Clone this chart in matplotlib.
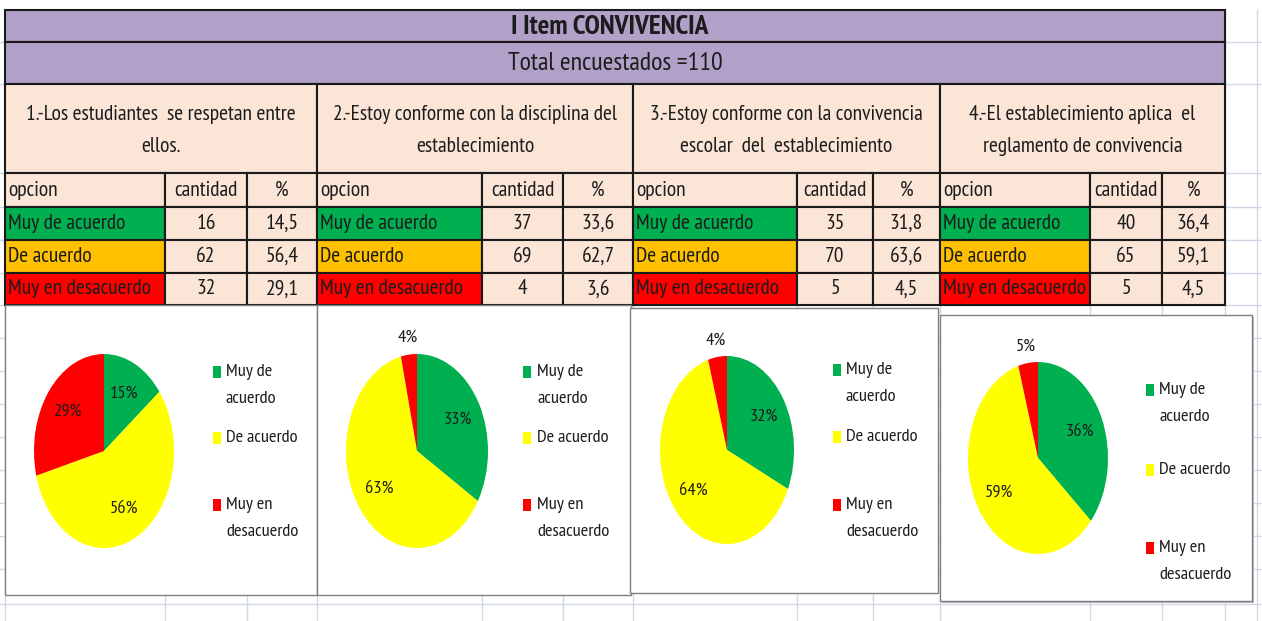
import math
import matplotlib
matplotlib.use("Agg")
import matplotlib.pyplot as plt
from matplotlib.patches import Rectangle

# ---------------- data ----------------
title = "I Item CONVIVENCIA"
subtitle = "Total encuestados =110"
questions = [
    "1.-Los estudiantes  se respetan entre\nellos.",
    "2.-Estoy conforme con la disciplina del\nestablecimiento",
    "3.-Estoy conforme con la convivencia\nescolar  del  establecimiento",
    "4.-El establecimiento aplica  el\nreglamento de convivencia",
]
col_headers = ["opcion", "cantidad", "%"]
options = ["Muy de acuerdo", "De acuerdo", "Muy en desacuerdo"]
legend_labels = ["Muy de\nacuerdo", "De acuerdo", "Muy en\ndesacuerdo"]

q1_counts = [16, 62, 32]
q2_counts = [37, 69, 4]
q3_counts = [35, 70, 5]
q4_counts = [40, 65, 5]

q1_pct = [14.5, 56.4, 29.1]
q2_pct = [33.6, 62.7, 3.6]
q3_pct = [31.8, 63.6, 4.5]
q4_pct = [36.4, 59.1, 4.5]

q1_pie_labels = ["15%", "56%", "29%"]
q2_pie_labels = ["33%", "63%", "4%"]
q3_pie_labels = ["32%", "64%", "4%"]
q4_pie_labels = ["36%", "59%", "5%"]

counts = [q1_counts, q2_counts, q3_counts, q4_counts]
pcts = [q1_pct, q2_pct, q3_pct, q4_pct]
pie_labels = [q1_pie_labels, q2_pie_labels, q3_pie_labels, q4_pie_labels]

# ---------------- styles ----------------
plt.rcParams["font.family"] = ["PT Sans Narrow", "Carlito", "DejaVu Sans"]

PURPLE = "#B1A0C7"
PEACH = "#FBE5D6"
CELL_COLORS = ["#00B050", "#FFC000", "#FF0000"]
PIE_COLORS = ["#00B050", "#FFFF00", "#FF0000"]
GRID = "#D0D7E5"
TXT = "#1c1c1c"
EDGE = "#1a1a1a"

W, H = 1262, 621
fig = plt.figure(figsize=(W / 100, H / 100), dpi=100)
bg = fig.add_axes([0, 0, 1, 1])
bg.set_xlim(0, W)
bg.set_ylim(H, 0)
bg.axis("off")

def pt(px):
    return px * 0.72

# background spreadsheet grid
grid_cols = [5, 165, 247, 317, 482, 563, 633, 797, 873, 940, 1090, 1162, 1225, 1257]
grid_rows = [42, 84, 173, 207, 240, 273, 305, 338, 371, 404, 437, 470, 503, 536, 569, 604]
for x in grid_cols:
    bg.plot([x, x], [10, H], color=GRID, lw=1, zorder=0)
for y in grid_rows:
    bg.plot([0, W], [y, y], color=GRID, lw=1, zorder=0)

# table geometry
X0, X1 = 5, 1225
row_y = [10, 42, 84, 173, 207, 240, 273, 305]
blocks = [(5, 165, 247, 317), (317, 482, 563, 633), (633, 797, 873, 940), (940, 1090, 1162, 1225)]

def cell(x0, y0, x1, y1, fc, lw=1.5):
    bg.add_patch(Rectangle((x0, y0), x1 - x0, y1 - y0, facecolor=fc,
                           edgecolor=EDGE, lw=lw, zorder=2))

cell(X0, row_y[0], X1, row_y[1], PURPLE)
cell(X0, row_y[1], X1, row_y[2], PURPLE)
bg.text((X0 + X1) / 2 - 5, (row_y[0] + row_y[1]) / 2 + 1, title, fontsize=pt(27.5),
        fontweight="bold", ha="center", va="center", color=TXT, zorder=5)
bg.text((X0 + X1) / 2, (row_y[1] + row_y[2]) / 2 + 1, subtitle, fontsize=pt(26),
        ha="center", va="center", color=TXT, zorder=5)

for b, (bx0, bx1, bx2, bx3) in enumerate(blocks):
    cell(bx0, row_y[2], bx3, row_y[3], PEACH)
    for k, line in enumerate(questions[b].split("\n")):
        bg.text((bx0 + bx3) / 2, 114 + 33 * k, line, fontsize=pt(21.5),
                ha="center", va="center", color=TXT, zorder=5)
    cols = [(bx0, bx1), (bx1, bx2), (bx2, bx3)]
    for c, (cx0, cx1) in enumerate(cols):
        cell(cx0, row_y[3], cx1, row_y[4], PEACH)
        if c == 0:
            bg.text(cx0 + 3, (row_y[3] + row_y[4]) / 2, col_headers[c], fontsize=pt(21.5),
                    ha="left", va="center", color=TXT, zorder=5)
        else:
            bg.text((cx0 + cx1) / 2, (row_y[3] + row_y[4]) / 2, col_headers[c], fontsize=pt(21.5),
                    ha="center", va="center", color=TXT, zorder=5)
    for r in range(3):
        y0, y1 = row_y[4 + r], row_y[5 + r]
        ym = (y0 + y1) / 2
        cell(cols[0][0], y0, cols[0][1], y1, CELL_COLORS[r])
        cell(cols[1][0], y0, cols[1][1], y1, PEACH)
        cell(cols[2][0], y0, cols[2][1], y1, PEACH)
        bg.text(cols[0][0] + 3, ym, options[r], fontsize=pt(21.5), ha="left", va="center",
                color=TXT, zorder=5)
        bg.text((cols[1][0] + cols[1][1]) / 2, ym, str(counts[b][r]), fontsize=pt(21.5),
                ha="center", va="center", color=TXT, zorder=5)
        bg.text((cols[2][0] + cols[2][1]) / 2, ym, f"{pcts[b][r]:.1f}".replace(".", ","),
                fontsize=pt(21.5), ha="center", va="center", color=TXT, zorder=5)

frames = [(5, 305, 317, 595), (317, 305, 631, 595), (630, 308, 938, 593), (940, 315, 1252, 601)]
pies = [(104, 451, 70, 97), (417, 451, 71, 97), (727, 450, 67, 94), (1038, 458, 70, 96)]
legends = [(217, 226, [372, 438, 505]), (527, 537, [372, 438, 505]),
           (837, 846, [370, 437, 505]), (1150, 1159, [390, 470, 548])]

for i, (fx0, fy0, fx1, fy1) in enumerate(frames):
    if i == 3:
        bg.add_patch(Rectangle((fx0 + 2, fy0 + 2), fx1 - fx0, fy1 - fy0, facecolor="#bdbdbd",
                               edgecolor="none", zorder=5))
    bg.add_patch(Rectangle((fx0, fy0), fx1 - fx0, fy1 - fy0, facecolor="white",
                           edgecolor="#7f7f7f", lw=1.0, zorder=6))

    cx, cy, rx, ry = pies[i]
    ax = fig.add_axes([(cx - rx) / W, 1 - (cy + ry) / H, 2 * rx / W, 2 * ry / H])
    ax.set_zorder(10)
    wedges, _ = ax.pie(counts[i], colors=PIE_COLORS, startangle=90, counterclock=False,
                       radius=1, wedgeprops=dict(linewidth=0))
    ax.set_aspect("auto")
    ax.set_xlim(-1, 1)
    ax.set_ylim(-1, 1)
    ax.axis("off")
    total = sum(counts[i])
    for w, lab, v in zip(wedges, pie_labels[i], counts[i]):
        th = math.radians((w.theta1 + w.theta2) / 2)
        r = 0.66 if v / total > 0.08 else 1.17
        ax.text(r * math.cos(th), r * math.sin(th), lab, fontsize=pt(18.5),
                ha="center", va="center", color=TXT, clip_on=False)

    sx, tx, ys = legends[i]
    for k, (lab, y) in enumerate(zip(legend_labels, ys)):
        bg.add_patch(Rectangle((sx - 4, y - 6), 8, 12, facecolor=PIE_COLORS[k],
                               edgecolor="none", zorder=7))
        for j, line in enumerate(lab.split("\n")):
            bg.text(tx, y + 27 * j, line, fontsize=pt(18.5), ha="left", va="center",
                    color=TXT, zorder=7)

fig.savefig("out.png", dpi=100)
